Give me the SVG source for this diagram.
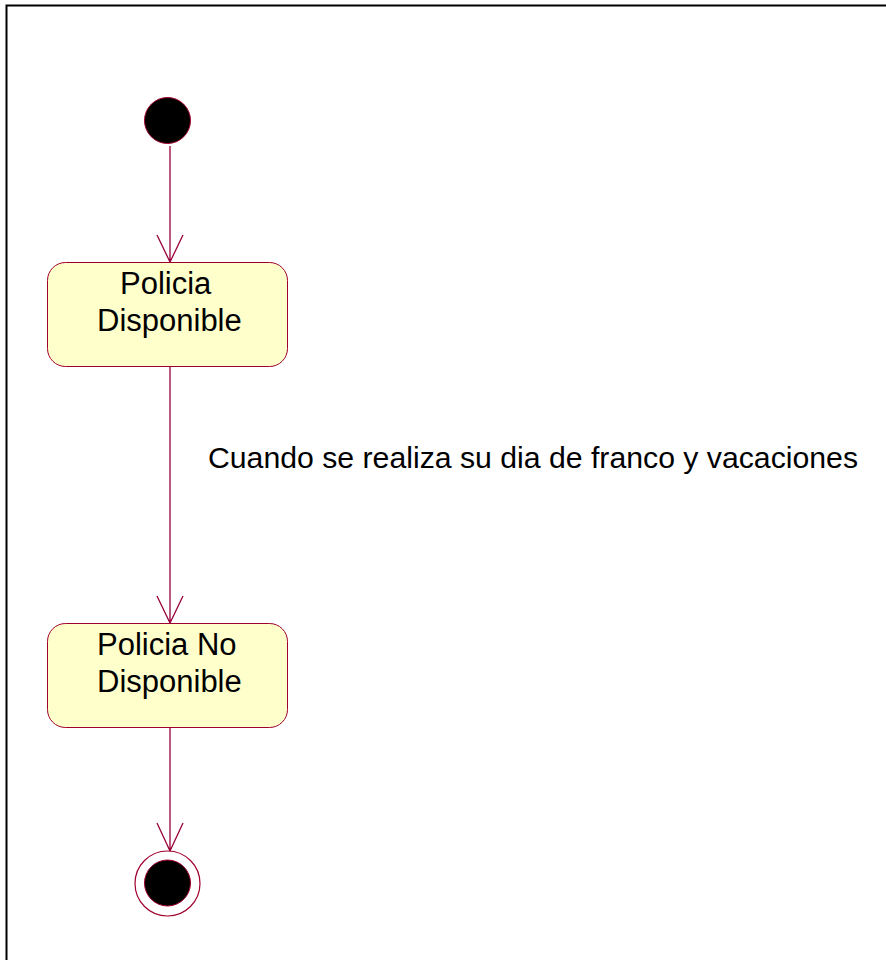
<svg xmlns="http://www.w3.org/2000/svg" width="886" height="960" viewBox="0 0 886 960">
<style>
.st{fill:#FFFFCC;stroke:#A0002E;stroke-width:1}
.ln{fill:none;stroke:#99003A;stroke-width:1.3}
.t{font-family:"Liberation Sans",Arial,sans-serif;font-size:31px;fill:#000}
.lb{font-family:"Liberation Sans",Arial,sans-serif;font-size:29px;fill:#000}
</style>
<rect width="886" height="960" fill="#fff"/>
<path d="M6.5,960 V5.5 H886" fill="none" stroke="#000" stroke-width="2"/>
<g id="connectors">
<path class="ln" d="M170,146 V262 M157,235 L170,262 L183,235"/>
<path class="ln" d="M170,367 V623 M157,596 L170,623 L183,596"/>
<path class="ln" d="M170,728 V851 M157,823 L170,851 L183,823"/>
<text class="lb" x="208" y="468" textLength="650" lengthAdjust="spacingAndGlyphs">Cuando se realiza su dia de franco y vacaciones</text>
</g>
<g id="initial">
<circle cx="167.5" cy="120.5" r="23" fill="#000" stroke="#A0002E" stroke-width="1"/>
</g>
<g id="policia-disponible">
<rect class="st" x="47.5" y="262.5" width="240" height="104" rx="18"/>
<text class="t" x="120" y="294">Policia</text>
<text class="t" x="97" y="331">Disponible</text>
</g>
<g id="policia-no-disponible">
<rect class="st" x="47.5" y="623.5" width="240" height="104" rx="18"/>
<text class="t" x="97" y="655">Policia No</text>
<text class="t" x="97" y="692">Disponible</text>
</g>
<g id="final">
<circle cx="167.5" cy="883.5" r="32.5" fill="#fff" stroke="#A0002E" stroke-width="1.2"/>
<circle cx="167.5" cy="883" r="23" fill="#000" stroke="#A0002E" stroke-width="1"/>
</g>
</svg>
